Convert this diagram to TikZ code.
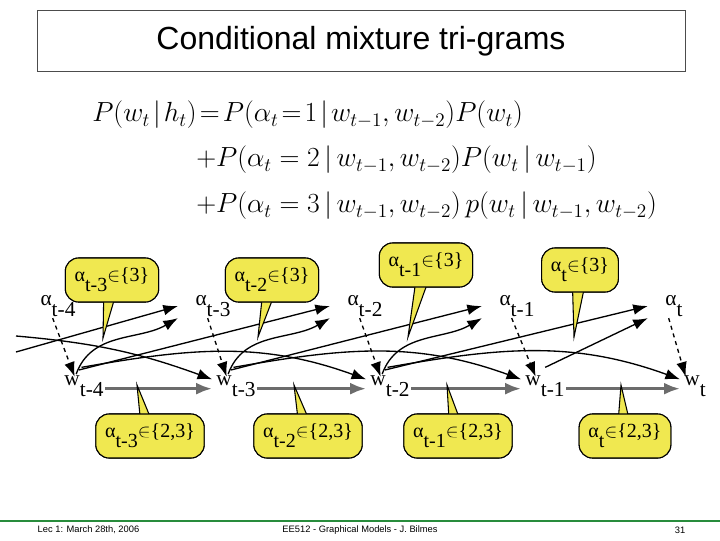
\documentclass[tikz,border=0pt]{standalone}
\usepackage{fontspec}
\setmainfont{Liberation Serif}
\newfontfamily\hsans{Liberation Sans}
\usetikzlibrary{arrows.meta,calc}
\definecolor{callyel}{RGB}{240,232,80}
\definecolor{footgreen}{RGB}{40,140,60}
\tikzset{
 lbl/.style={font=\fontsize{16}{16}\selectfont, inner sep=1pt},
 edge/.style={-{Latex[length=11pt,width=8pt]}, line width=1pt},
 dedge/.style={edge, dashed},
 gedge/.style={-{Latex[length=12pt,width=9pt]}, line width=2.4pt, draw=gray!85!black},
 callbox/.style={draw=black, fill=callyel, rounded corners=10pt, line width=0.8pt, font=\fontsize{15}{15}\selectfont, inner xsep=7pt, inner ysep=4pt, minimum height=33pt}
}
\newcommand{\al}[1]{α\raisebox{-1.1ex}{#1}}
\newcommand{\wl}[1]{w\raisebox{-1.1ex}{#1}}
\newcommand{\callout}[4]{% name, center, tip, text
 \node[callbox] (#1) at #2 {#4};
 \coordinate (#1tip) at #3;
 \path[fill=callyel, draw=black, line width=0.8pt] ([xshift=-6pt]#1.center) -- (#1tip) -- ([xshift=6pt]#1.center);
 \node[callbox] at #2 {#4};
 \fill[callyel] ([xshift=-5.2pt,yshift=-8pt]#1.center) -- ($(#1tip)!0.85!([xshift=-5.2pt,yshift=-8pt]#1.center)$) -- ($(#1tip)!0.85!([xshift=5.2pt,yshift=-8pt]#1.center)$) -- ([xshift=5.2pt,yshift=-8pt]#1.center) -- cycle;
}
\begin{document}
\begin{tikzpicture}[x=0.75pt,y=-0.75pt]
\useasboundingbox (0,0) rectangle (720,540);
% title
\node[draw=black!70, line width=0.6pt, minimum width=486pt, minimum height=46pt, font=\hsans\fontsize{24}{24}\selectfont] (title) at (361,41) {Conditional mixture tri-grams};
% formula
\node[anchor=west, font=\fontsize{19.5}{19.5}\selectfont, inner sep=0] (f1) at (92,115) {$P(w_t\!\mid\! h_t)\!=\!P(\alpha_t\!=\!1\!\mid\! w_{t-1},w_{t-2})P(w_t)$};
\node[anchor=west, font=\fontsize{19.5}{19.5}\selectfont, inner sep=0] (f2) at (196,160) {$+P(\alpha_t=2\,|\,w_{t-1},w_{t-2})P(w_t\,|\,w_{t-1})$};
\node[anchor=west, font=\fontsize{19.5}{19.5}\selectfont, inner sep=0] (f3) at (196,206) {$+P(\alpha_t=3\,|\,w_{t-1},w_{t-2})\,p(w_t\,|\,w_{t-1},w_{t-2})$};
% nodes
\node[lbl] (a4) at (58,306) {\al{t-4}};
\node[lbl] (a3) at (213,306) {\al{t-3}};
\node[lbl] (a2) at (365,306) {\al{t-2}};
\node[lbl] (a1) at (517,306) {\al{t-1}};
\node[lbl] (a0) at (674,306) {\al{t}};
\node[lbl] (w4) at (84,386) {\wl{t-4}};
\node[lbl] (w3) at (236,386) {\wl{t-3}};
\node[lbl] (w2) at (390,386) {\wl{t-2}};
\node[lbl] (w1) at (545,386) {\wl{t-1}};
\node[lbl] (w0) at (695,386) {\wl{t}};
\coordinate (L1) at (16,336);
\coordinate (L2) at (16,352);
% dashed
\foreach \i in {4,3,2,1,0} \draw[dedge] ([xshift=-4pt]a\i.south) -- ([xshift=-7pt,yshift=-2pt]w\i.north);
% gray
\draw[gedge] ([yshift=-2pt]w4.east) -- ([xshift=-2pt,yshift=-2pt]w3.west);
\draw[gedge] ([yshift=-2pt]w3.east) -- ([xshift=-2pt,yshift=-2pt]w2.west);
\draw[gedge] ([yshift=-2pt]w2.east) -- ([xshift=-2pt,yshift=-2pt]w1.west);
\draw[gedge] ([yshift=-2pt]w1.east) -- ([xshift=-2pt,yshift=-2pt]w0.west);
% edges
\draw[edge] (L2) -- ([xshift=-12pt]a3.west);
\draw[edge] (L1) to[out=-5,in=160] ([xshift=-2pt,yshift=-4pt]w3.north west);
\foreach \p/\q/\r in {4/3/2,3/2/1,2/1/0}{
 \draw[edge] ([xshift=10pt]w\p.north west) to[out=70,in=-150] ([xshift=-12pt,yshift=0pt]a\q.south west);
 \draw[edge] ([xshift=12pt,yshift=3pt]w\p.north west) -- ([xshift=-12pt]a\r.west);
 \draw[edge] ([xshift=14pt,yshift=5pt]w\p.north west) to[out=10,in=160] ([xshift=-2pt,yshift=-4pt]w\r.north west);
}
\draw[edge] ([xshift=16pt,yshift=5pt]w1.north west) -- ([xshift=-12pt,yshift=0pt]a0.south west);
% callouts
\callout{c1}{(112,280)}{(103,338)}{\al{t-3}$\in$\{3\}}
\callout{c2}{(272,280)}{(258,337)}{\al{t-2}$\in$\{3\}}
\callout{c3}{(426,265)}{(408,337)}{\al{t-1}$\in$\{3\}}
\callout{c4}{(580,270)}{(574,337)}{\al{t}$\in$\{3\}}
\callout{c5}{(150,436)}{(137,385)}{\al{t-3}$\in$\{2,3\}}
\callout{c6}{(308,436)}{(294,385)}{\al{t-2}$\in$\{2,3\}}
\callout{c7}{(458,436)}{(447,385)}{\al{t-1}$\in$\{2,3\}}
\callout{c8}{(625,436)}{(621,385)}{\al{t}$\in$\{2,3\}}
% footer
\draw[footgreen, line width=0.8pt] (0,521) -- (720,521);
\node[anchor=west, font=\hsans\fontsize{7}{7}\selectfont] (ft1) at (33,530) {Lec 1: March 28th, 2006};
\node[font=\hsans\fontsize{7}{7}\selectfont] (ft2) at (360,530) {EE512 - Graphical Models - J. Bilmes};
\node[anchor=east, font=\hsans\fontsize{7}{7}\selectfont] (ft3) at (690,530) {31};
\end{tikzpicture}
\end{document}
